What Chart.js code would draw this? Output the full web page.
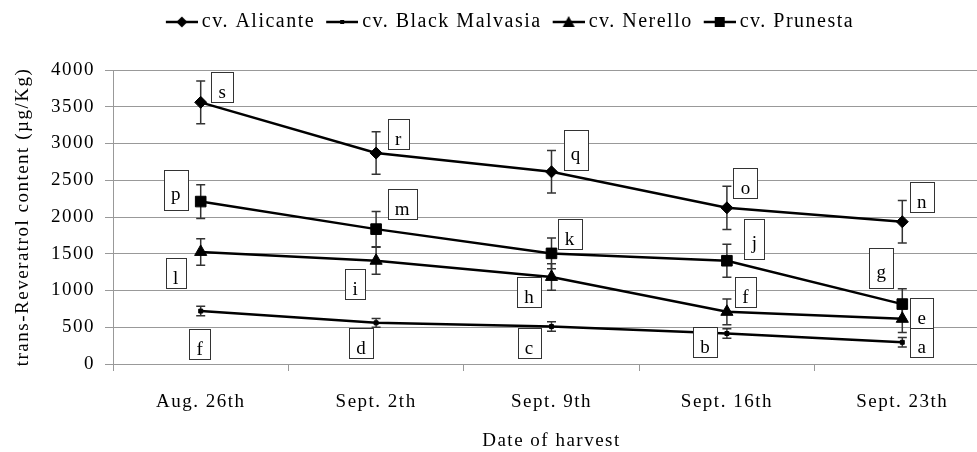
<!DOCTYPE html>
<html>
<head>
<meta charset="utf-8">
<script src="https://cdn.jsdelivr.net/npm/chart.js@4.4.1/dist/chart.umd.min.js"></script>
<style>
    html, body { margin: 0; padding: 0; background: #fff; overflow: hidden; }
    #wrap { width: 977px; height: 452px; overflow: hidden; }
    #chartBox { width: 1020px; height: 452px; }
</style>
</head>
<body>
<div id="wrap"><div id="chartBox"><canvas id="myChart"></canvas></div></div>
<script>
// Data
const dates = ['Aug. 26th', 'Sept. 2th', 'Sept. 9th', 'Sept. 16th', 'Sept. 23th'];

const alicante = [3560, 2870, 2615, 2125, 1935];
const alicanteErr = [290, 290, 290, 295, 290];
const alicanteLetters = ['s', 'r', 'q', 'o', 'n'];

const malvasia = [720, 560, 510, 415, 295];
const malvasiaErr = [65, 60, 65, 65, 65];
const malvasiaLetters = ['f', 'd', 'c', 'b', 'a'];

const nerello = [1525, 1405, 1185, 710, 615];
const nerelloErr = [180, 185, 180, 175, 185];
const nerelloLetters = ['l', 'i', 'h', 'f', 'e'];

const prunesta = [2210, 1835, 1505, 1405, 815];
const prunestaErr = [230, 240, 210, 225, 210];
const prunestaLetters = ['p', 'm', 'k', 'j', 'g'];

const yTicks = [0, 500, 1000, 1500, 2000, 2500, 3000, 3500, 4000];

// where each letter box sits, relative to its point (px)
const letterOffsets = [
    [[21.5, -15], [22, -19], [24, -22], [18.5, -25], [19.5, -25]],
    [[-1, 32.5], [-15, 20], [-22.5, 16], [-22, 9], [19.5, 0]],
    [[-25, 21], [-21, 23.5], [-22.5, 15], [18.5, -19.5], [19.5, -5.5]],
    [[-25, -12], [26, -25], [18, -19], [27.5, -22], [-21, -36]]
];

const FONT = "'Liberation Serif', 'Times New Roman', serif";
const SPACING = '1.5px';

// legend icons: short line with the marker on it (left part of the canvas stays empty)
function makeIcon(style) {
    const c = document.createElement('canvas');
    c.width = 38; c.height = 14;
    const g = c.getContext('2d');
    g.strokeStyle = '#000';
    g.fillStyle = '#000';
    g.lineWidth = 2.5;
    g.beginPath(); g.moveTo(6, 7); g.lineTo(38, 7); g.stroke();
    const m = 22;
    g.beginPath();
    if (style === 'rectRot') {
        g.moveTo(m, 1.5); g.lineTo(m + 5.5, 7); g.lineTo(m, 12.5); g.lineTo(m - 5.5, 7);
    } else if (style === 'rect') {
        g.rect(m - 5, 2, 10, 10);
    } else if (style === 'triangle') {
        g.moveTo(m, 1); g.lineTo(m + 6, 12); g.lineTo(m - 6, 12);
    } else {
        g.rect(m - 2, 5, 4, 4);
    }
    g.closePath();
    g.fill();
    return c;
}

const styles = ['rectRot', 'rect', 'triangle', 'rect'];
const radii = [6, 2.8, 7, 7.5];
const legendIcons = [makeIcon('rectRot'), makeIcon('dot'), makeIcon('triangle'), makeIcon('rect')];

const spacingPlugin = {
    id: 'spacing',
    beforeUpdate(chart) { chart.ctx.letterSpacing = SPACING; },
    beforeLayout(chart) { chart.ctx.letterSpacing = SPACING; },
    afterLayout(chart) {
        // keep the legend at the very top, away from the plot
        const lg = chart.legend;
        if (lg) {
            const h = lg.height;
            lg.top = 1;
            lg.bottom = 1 + h;
            lg.left += 15;
            lg.right += 15;
        }
    },
    beforeDraw(chart) { chart.ctx.letterSpacing = SPACING; }
};

const extrasPlugin = {
    id: 'extras',
    beforeDatasetsDraw(chart) {
        const ctx = chart.ctx;
        const y = chart.scales.y;
        ctx.save();
        ctx.strokeStyle = '#333';
        ctx.lineWidth = 1.5;
        chart.data.datasets.forEach((ds, i) => {
            chart.getDatasetMeta(i).data.forEach((pt, j) => {
                const top = y.getPixelForValue(ds.data[j] + ds.errors[j]);
                const bot = y.getPixelForValue(ds.data[j] - ds.errors[j]);
                ctx.beginPath();
                ctx.moveTo(pt.x, top); ctx.lineTo(pt.x, bot);
                ctx.moveTo(pt.x - 4.5, top); ctx.lineTo(pt.x + 4.5, top);
                ctx.moveTo(pt.x - 4.5, bot); ctx.lineTo(pt.x + 4.5, bot);
                ctx.stroke();
            });
        });
        ctx.restore();
    },
    afterDatasetsDraw(chart) {
        const ctx = chart.ctx;
        ctx.save();
        ctx.letterSpacing = SPACING;
        ctx.font = '19px ' + FONT;
        ctx.textAlign = 'center';
        ctx.textBaseline = 'alphabetic';
        chart.data.datasets.forEach((ds, i) => {
            chart.getDatasetMeta(i).data.forEach((pt, j) => {
                const letter = ds.letters[j];
                const tall = 'pqgj'.includes(letter);
                const w = Math.round(ctx.measureText(letter).width) + 13;
                const h = tall ? 40 : 30;
                const cx = pt.x + letterOffsets[i][j][0];
                const cy = pt.y + letterOffsets[i][j][1];
                const left = Math.round(cx - w / 2) + 0.5;
                const top = Math.round(cy - h / 2) + 0.5;
                ctx.fillStyle = '#fff';
                ctx.fillRect(left, top, w, h);
                ctx.strokeStyle = '#333';
                ctx.lineWidth = 1;
                ctx.strokeRect(left, top, w, h);
                ctx.fillStyle = '#000';
                ctx.fillText(letter, cx + 0.75, top + (tall ? 29 : 25));
            });
        });
        ctx.restore();
    }
};

function series(label, data, errors, letters, k) {
    return {
        label: label,
        data: data,
        errors: errors,
        letters: letters,
        borderColor: '#000',
        backgroundColor: '#000',
        borderWidth: 2.5,
        pointStyle: styles[k],
        pointRadius: radii[k],
        pointHoverRadius: radii[k],
        pointBackgroundColor: '#000',
        pointBorderColor: '#000',
        pointBorderWidth: 1,
        tension: 0,
        fill: false
    };
}

const ctx = document.getElementById('myChart').getContext('2d');
const myChart = new Chart(ctx, {
    type: 'line',
    data: {
        labels: dates,
        datasets: [
            series('cv. Alicante', alicante, alicanteErr, alicanteLetters, 0),
            series('cv. Black Malvasia', malvasia, malvasiaErr, malvasiaLetters, 1),
            series('cv. Nerello', nerello, nerelloErr, nerelloLetters, 2),
            series('cv. Prunesta', prunesta, prunestaErr, prunestaLetters, 3)
        ]
    },
    options: {
        responsive: true,
        maintainAspectRatio: false,
        animation: false,
        devicePixelRatio: 1,
        layout: { padding: { top: 1, right: 30, bottom: 0, left: 0 } },
        plugins: {
            tooltip: { enabled: false },
            legend: {
                position: 'top',
                labels: {
                    usePointStyle: true,
                    pointStyleWidth: 26,
                    boxHeight: 14,
                    padding: 11,
                    color: '#000',
                    font: { family: FONT, size: 20 },
                    generateLabels(chart) {
                        return chart.data.datasets.map((ds, i) => ({
                            text: ds.label,
                            pointStyle: legendIcons[i],
                            datasetIndex: i,
                            hidden: false,
                            lineWidth: 0,
                            fillStyle: 'transparent',
                            strokeStyle: 'transparent',
                            fontColor: '#000'
                        }));
                    }
                }
            }
        },
        scales: {
            x: {
                offset: true,
                afterFit(scale) { scale.height = 88; },
                grid: {
                    offset: true,
                    drawOnChartArea: false,
                    color: '#999',
                    tickLength: 7
                },
                border: { color: '#999', width: 1 },
                ticks: {
                    color: '#000',
                    padding: 20,
                    maxRotation: 0,
                    font: { family: FONT, size: 19 }
                },
                title: {
                    display: true,
                    text: 'Date of harvest',
                    color: '#000',
                    padding: { top: 4, bottom: 0 },
                    font: { family: FONT, size: 19 }
                }
            },
            y: {
                min: 0,
                max: 4000,
                afterFit(scale) {
                    scale.width = 113;
                    scale.paddingTop = 70;
                },
                afterBuildTicks(scale) { scale.ticks = yTicks.map(v => ({ value: v })); },
                grid: { color: '#999', tickLength: 8 },
                border: { color: '#999', width: 1 },
                ticks: {
                    color: '#000',
                    padding: 10,
                    font: { family: FONT, size: 19 },
                    callback: v => String(v)
                },
                title: {
                    display: true,
                    text: 'trans-Reveratrol content (µg/Kg)',
                    color: '#000',
                    padding: { top: 12, bottom: 0 },
                    font: { family: FONT, size: 19 }
                }
            }
        }
    },
    plugins: [spacingPlugin, extrasPlugin]
});
</script>
</body>
</html>
